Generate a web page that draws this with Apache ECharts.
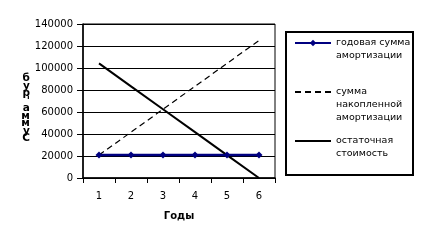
<!DOCTYPE html>
<html><head><meta charset="utf-8">
<script src="https://cdn.jsdelivr.net/npm/echarts@6/dist/echarts.min.js"></script>
<style>html,body{margin:0;padding:0;background:#fff}#c{width:423px;height:243px}</style>
</head><body><div id="c"></div>
<script>
const years = ['1','2','3','4','5','6'];
const annual = [20833, 20833, 20833, 20833, 20833, 20833];
const accumulated = [20833, 41667, 62500, 83333, 104167, 125000];
const residual = [104167, 83333, 62500, 41667, 20833, 0];
const names = ['годовая сумма амортизации', 'сумма накопленной амортизации', 'остаточная стоимость'];
const legendText = ['\nгодовая сумма\nамортизации', '\n\nсумма\nнакопленной\nамортизации', '\nостаточная\nстоимость'];
const font = 'DejaVu Sans';
const chart = echarts.init(document.getElementById('c'));
const leg = (i, top, hideSymbol) => ({
  data: [hideSymbol ? {name: names[i], itemStyle: {opacity: 0}} : names[i]],
  left: 294, top: top, orient: 'vertical', itemWidth: 36, itemHeight: 8, itemGap: 5,
  padding: 0, formatter: () => legendText[i],
  textStyle: {fontFamily: font, fontSize: 9.5, color: '#000', lineHeight: 13}
});
chart.setOption({
  animation: false,
  textStyle: {fontFamily: font},
  grid: {left: 83, top: 24, width: 192, height: 154, show: true, borderColor: '#000', borderWidth: 1},
  legend: [leg(0, 23.5, false), leg(1, 59.5, true), leg(2, 121.5, true)],
  graphic: [{type: 'rect', shape: {x: 286, y: 32, width: 127, height: 143}, style: {fill: 'none', stroke: '#000', lineWidth: 2}}],
  xAxis: {
    type: 'category', data: years, boundaryGap: true,
    name: 'Годы', nameLocation: 'middle', nameGap: 33,
    nameTextStyle: {fontFamily: font, fontSize: 10, fontWeight: 'bold', color: '#000'},
    axisLine: {lineStyle: {color: '#000', width: 1.5}},
    axisTick: {show: true, inside: false, length: 5, lineStyle: {color: '#000'}},
    axisLabel: {fontFamily: font, fontSize: 10, color: '#000', margin: 13},
    splitLine: {show: false}
  },
  yAxis: {
    type: 'value', min: 0, max: 140000, interval: 20000,
    name: '\n\nб\nу\nр\n\'\nа\nм\nм\nу\nС', nameLocation: 'middle', nameGap: 50, nameRotate: 0,
    nameTextStyle: {fontFamily: font, fontSize: 10.5, fontWeight: 'bold', color: '#000', lineHeight: 7.5},
    axisLine: {show: true, lineStyle: {color: '#000', width: 1.5}},
    axisTick: {show: true, length: 6, lineStyle: {color: '#000'}},
    axisLabel: {fontFamily: font, fontSize: 10, color: '#000', margin: 10, formatter: v => String(v)},
    splitLine: {lineStyle: {color: '#000', width: 1}}
  },
  series: [
    {name: names[0], type: 'line', data: annual, symbol: 'diamond', symbolSize: 7,
     itemStyle: {color: '#000080'}, lineStyle: {color: '#000080', width: 2.5}},
    {name: names[1], type: 'line', data: accumulated, symbol: 'none',
     itemStyle: {color: '#000'}, lineStyle: {color: '#000', width: 1.2, type: [6, 4]}},
    {name: names[2], type: 'line', data: residual, symbol: 'none',
     itemStyle: {color: '#000'}, lineStyle: {color: '#000', width: 2}}
  ]
});
</script></body></html>
